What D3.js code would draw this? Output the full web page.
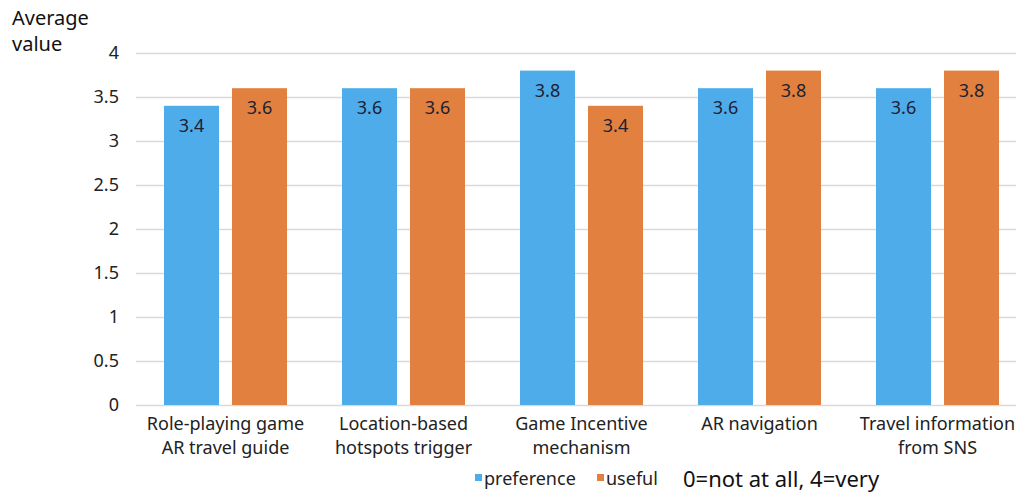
<!DOCTYPE html>
<html>
<head>
<meta charset="utf-8">
<script src="https://cdn.jsdelivr.net/npm/d3@7"></script>
<style>
  html, body { margin: 0; padding: 0; background: #fff; }
  svg { display: block; font-family: "Noto Sans", "Liberation Sans", Arial, sans-serif; }
</style>
</head>
<body>
<svg id="chart" width="1016" height="494"></svg>
<script>
// Feature ratings (0 = not at all, 4 = very)
const categories = [
  ["Role-playing game", "AR travel guide"],
  ["Location-based", "hotspots trigger"],
  ["Game Incentive", "mechanism"],
  ["AR navigation"],
  ["Travel information", "from SNS"]
];
const seriesNames = ["preference", "useful"];
const preference = [3.4, 3.6, 3.8, 3.6, 3.6];
const useful = [3.6, 3.6, 3.4, 3.8, 3.8];
const yTicks = [0, 0.5, 1, 1.5, 2, 2.5, 3, 3.5, 4];

const colors = { preference: "#4FACEA", useful: "#E1803F" };
const seriesValues = { preference, useful };

const svg = d3.select("#chart");
const keys = categories.map((c, i) => i);

const x0 = d3.scaleBand()
  .domain(keys)
  .range([136.5, 1026.5])
  .paddingInner(0.309)
  .paddingOuter(0.1545);

const x1 = d3.scaleBand()
  .domain(seriesNames)
  .range([0, x0.bandwidth()])
  .paddingInner(0.191);

const y = d3.scaleLinear().domain([0, 4]).range([405, 53]);

// Horizontal gridlines and tick labels
const yAxis = d3.axisLeft(y)
  .tickValues(yTicks)
  .tickFormat(d => String(d))
  .tickSize(0)
  .tickPadding(0);

const gy = svg.append("g").attr("transform", "translate(119,0)").call(yAxis);
gy.select(".domain").remove();
gy.selectAll("text")
  .attr("fill", "#222")
  .attr("font-size", 18)
  .attr("font-family", "Noto Sans, Liberation Sans, Arial, sans-serif");

svg.append("g")
  .selectAll("line")
  .data(yTicks)
  .join("line")
  .attr("x1", 136)
  .attr("x2", 1016)
  .attr("y1", d => Math.round(y(d)) + 0.5)
  .attr("y2", d => Math.round(y(d)) + 0.5)
  .attr("stroke", "#d9d9d9")
  .attr("stroke-width", 1.5);

// Bars
const groups = svg.append("g")
  .selectAll("g")
  .data(keys)
  .join("g")
  .attr("transform", i => `translate(${x0(i)},0)`);

groups.selectAll("rect")
  .data(i => seriesNames.map(s => ({ s, v: seriesValues[s][i] })))
  .join("rect")
  .attr("x", d => x1(d.s))
  .attr("width", x1.bandwidth())
  .attr("y", d => y(d.v))
  .attr("height", d => y(0) - y(d.v))
  .attr("fill", d => colors[d.s]);

// Value labels inside bar tops
groups.selectAll("text.val")
  .data(i => seriesNames.map(s => ({ s, v: seriesValues[s][i] })))
  .join("text")
  .attr("class", "val")
  .attr("x", d => x1(d.s) + x1.bandwidth() / 2)
  .attr("y", d => y(d.v) + 26)
  .attr("text-anchor", "middle")
  .attr("font-size", 18)
  .attr("fill", "#1d2230")
  .text(d => d.v.toFixed(1));

// Category labels (one text element per line)
const xl = svg.append("g");
keys.forEach(i => {
  categories[i].forEach((line, j) => {
    xl.append("text")
      .attr("x", x0(i) + x0.bandwidth() / 2)
      .attr("y", 430 + j * 24)
      .attr("text-anchor", "middle")
      .attr("font-size", 18)
      .attr("fill", "#222")
      .text(line);
  });
});

// Y axis title
svg.append("text")
  .attr("x", 12)
  .attr("y", 25)
  .attr("font-size", 20)
  .attr("fill", "#111")
  .selectAll("tspan")
  .data(["Average", "value"])
  .join("tspan")
  .attr("x", 12)
  .attr("dy", (d, j) => j === 0 ? 0 : 26)
  .text(d => d);

// Legend
const legend = svg.append("g");
const legendItems = [
  { s: "preference", x: 475 },
  { s: "useful", x: 597 }
];
legend.selectAll("rect")
  .data(legendItems)
  .join("rect")
  .attr("x", d => d.x)
  .attr("y", 474)
  .attr("width", 7)
  .attr("height", 7)
  .attr("fill", d => colors[d.s]);
legend.selectAll("text")
  .data(legendItems)
  .join("text")
  .attr("x", d => d.x + 9)
  .attr("y", 485)
  .attr("font-size", 18)
  .attr("fill", "#222")
  .text(d => d.s);

svg.append("text")
  .attr("x", 683)
  .attr("y", 487)
  .attr("font-size", 22)
  .attr("fill", "#111")
  .text("0=not at all, 4=very");
</script>
</body>
</html>
